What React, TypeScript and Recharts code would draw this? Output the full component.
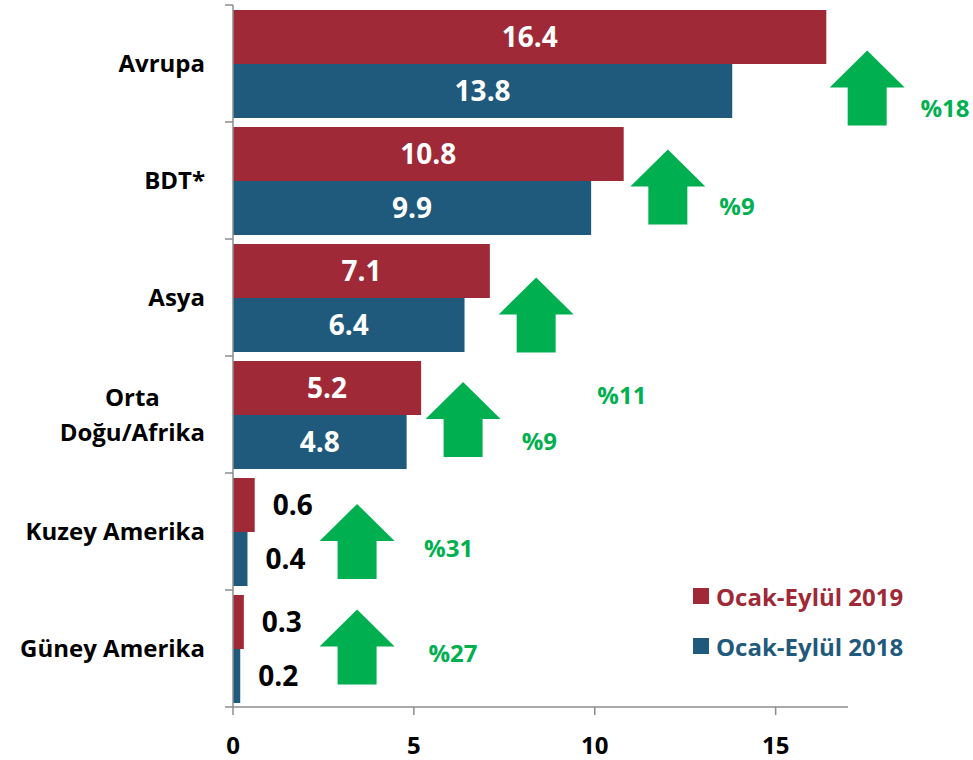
import { BarChart, Bar, XAxis, YAxis, LabelList, ScatterChart, Scatter } from 'recharts';

// Ocak-Eylül (Jan-Sep) values by region
const regions = ['Avrupa', 'BDT*', 'Asya', 'Orta\nDoğu/Afrika', 'Kuzey Amerika', 'Güney Amerika'];
const jan_sep_2019 = [16.4, 10.8, 7.1, 5.2, 0.6, 0.3];
const jan_sep_2018 = [13.8, 9.9, 6.4, 4.8, 0.4, 0.2];
const xTicks = [0, 5, 10, 15];

// growth arrows + % labels, in data units (x value, row index from top)
const changeLabels = ['%18', '%9', '%11', '%9', '%31', '%27'];
const arrowX = [17.53, 12.02, 8.38, 6.36, 3.43, 3.43];
const arrowRow = [0.705, 1.551, 2.645, 3.538, 4.581, 5.483];
const changeX = [19.68, 13.93, 10.75, 8.47, 5.96, 6.08];
const changeRow = [0.88, 1.722, 3.333, 3.731, 4.641, 5.538];

const FONT = '"Open Sans", Lato, sans-serif';
const FS = 24;
const VALUE_FS = 28;
const RED = '#A02937';
const BLUE = '#1F5A7C';
const GREEN = '#00B050';
const AXIS = '#8C8C8C';

const W = 973;
const H = 760;
const MARGIN = { top: 5, right: 125, bottom: 13, left: 8 };
const Y_AXIS_W = 225;
const X_AXIS_H = 40;
const X_MAX = 17;
// the overlay runs to the right edge, so its x domain is stretched to keep the same scale
const PLOT_LEFT = MARGIN.left + Y_AXIS_W;
const PLOT_W = W - PLOT_LEFT - MARGIN.right;
const OVERLAY_X_MAX = X_MAX * (W - PLOT_LEFT) / PLOT_W;

const rows = regions.map((region, i) => ({
    region,
    y2019: jan_sep_2019[i],
    y2018: jan_sep_2018[i],
}));
const arrows = arrowX.map((x, i) => ({ x, row: arrowRow[i] }));
const changes = changeX.map((x, i) => ({ x, row: changeRow[i], label: changeLabels[i] }));

let ctx: CanvasRenderingContext2D | null = null;
function textWidth(s: string) {
    if (!ctx) ctx = document.createElement('canvas').getContext('2d');
    if (!ctx) return s.length * FS * 0.6;
    ctx.font = `bold ${FS}px "Open Sans"`;
    return ctx.measureText(s).width;
}

function CategoryTick(props: any) {
    const { x, y, payload, index, visibleTicksCount } = props;
    const lines = String(payload.value).split('\n');
    const maxW = Math.max(...lines.map(textWidth));
    const half = payload.offset || 58.5;
    const axisX = x + 28;
    return (
        <g>
            <line x1={axisX - 8} x2={axisX} y1={y - half} y2={y - half} stroke={AXIS} strokeWidth={1.5} />
            {index === visibleTicksCount - 1 && (
                <line x1={axisX - 8} x2={axisX} y1={y + half} y2={y + half} stroke={AXIS} strokeWidth={1.5} />
            )}
            {lines.map((l, i) => (
                <text
                    key={i}
                    x={x - maxW / 2}
                    y={y + (i - (lines.length - 1) / 2) * 35}
                    dy="0.36em"
                    textAnchor="middle"
                    fill="#000"
                    fontSize={FS}
                    fontWeight={700}
                    fontFamily={FONT}
                >
                    {l}
                </text>
            ))}
        </g>
    );
}

function ValueLabel(props: any) {
    const x = Number(props.x), y = Number(props.y);
    const width = Number(props.width), height = Number(props.height);
    const value = Number(props.value);
    const inside = value >= 1;
    return (
        <text
            x={inside ? x + width / 2 : x + width + 18}
            y={y + height / 2}
            dy="0.36em"
            textAnchor={inside ? 'middle' : 'start'}
            fill={inside ? '#fff' : '#000'}
            fontSize={VALUE_FS}
            fontWeight={700}
            fontFamily={FONT}
        >
            {value}
        </text>
    );
}

function UpArrow(props: any) {
    const { cx, cy } = props;
    const pts = [
        [cx, cy - 37], [cx + 37.5, cy], [cx + 19.5, cy], [cx + 19.5, cy + 38],
        [cx - 19.5, cy + 38], [cx - 19.5, cy], [cx - 37.5, cy],
    ].map(p => p.join(',')).join(' ');
    return <polygon points={pts} fill={GREEN} />;
}

function ChangeText(props: any) {
    return (
        <text x={props.cx} y={props.cy} dy="0.36em" textAnchor="middle" fill={GREEN}
            fontSize={FS} fontWeight={700} fontFamily={FONT}>
            {props.payload?.label}
        </text>
    );
}

export default function App() {
    return (
        <div style={{ position: 'absolute', left: 0, top: 0, width: W, height: H, background: '#fff', fontFamily: FONT }}>
            <BarChart
                layout="vertical"
                width={W}
                height={H}
                data={rows}
                margin={MARGIN}
                barCategoryGap={5}
                barGap={0}
            >
                <XAxis
                    type="number"
                    domain={[0, X_MAX]}
                    ticks={xTicks}
                    height={X_AXIS_H}
                    tickSize={8}
                    tickMargin={22}
                    axisLine={{ stroke: AXIS, strokeWidth: 1.5 }}
                    tickLine={{ stroke: AXIS, strokeWidth: 1.5 }}
                    tick={{ fill: '#000', fontSize: FS, fontWeight: 700, fontFamily: FONT }}
                />
                <YAxis
                    type="category"
                    dataKey="region"
                    width={Y_AXIS_W}
                    tickSize={8}
                    tickMargin={20}
                    tickLine={false}
                    axisLine={{ stroke: AXIS, strokeWidth: 1.5 }}
                    tick={<CategoryTick />}
                    interval={0}
                />
                <Bar dataKey="y2019" name="Ocak-Eylül 2019" fill={RED} isAnimationActive={false}>
                    <LabelList dataKey="y2019" content={<ValueLabel />} />
                </Bar>
                <Bar dataKey="y2018" name="Ocak-Eylül 2018" fill={BLUE} isAnimationActive={false}>
                    <LabelList dataKey="y2018" content={<ValueLabel />} />
                </Bar>
            </BarChart>

            {/* overlay for the growth arrows */}
            <div style={{ position: 'absolute', left: 0, top: 0, pointerEvents: 'none' }}>
                <ScatterChart
                    width={W}
                    height={H}
                    margin={{ top: MARGIN.top, right: 0, bottom: MARGIN.bottom + X_AXIS_H, left: PLOT_LEFT }}
                >
                    <XAxis type="number" dataKey="x" domain={[0, OVERLAY_X_MAX]} hide />
                    <YAxis type="number" dataKey="row" domain={[0, 6]} reversed hide />
                    <Scatter data={arrows} shape={UpArrow} isAnimationActive={false} />
                    <Scatter data={changes} shape={ChangeText} isAnimationActive={false} />
                </ScatterChart>
            </div>

            <div style={{ position: 'absolute', left: 693, top: 571, fontSize: FS, fontWeight: 700, fontFamily: FONT }}>
                {[{ t: 'Ocak-Eylül 2019', c: RED }, { t: 'Ocak-Eylül 2018', c: BLUE }].map(it => (
                    <div key={it.t} style={{ height: 50, display: 'flex', alignItems: 'center', color: it.c, whiteSpace: 'nowrap' }}>
                        <span style={{ width: 16, height: 16, background: it.c, marginRight: 7, display: 'inline-block' }} />
                        {it.t}
                    </div>
                ))}
            </div>
        </div>
    );
}
